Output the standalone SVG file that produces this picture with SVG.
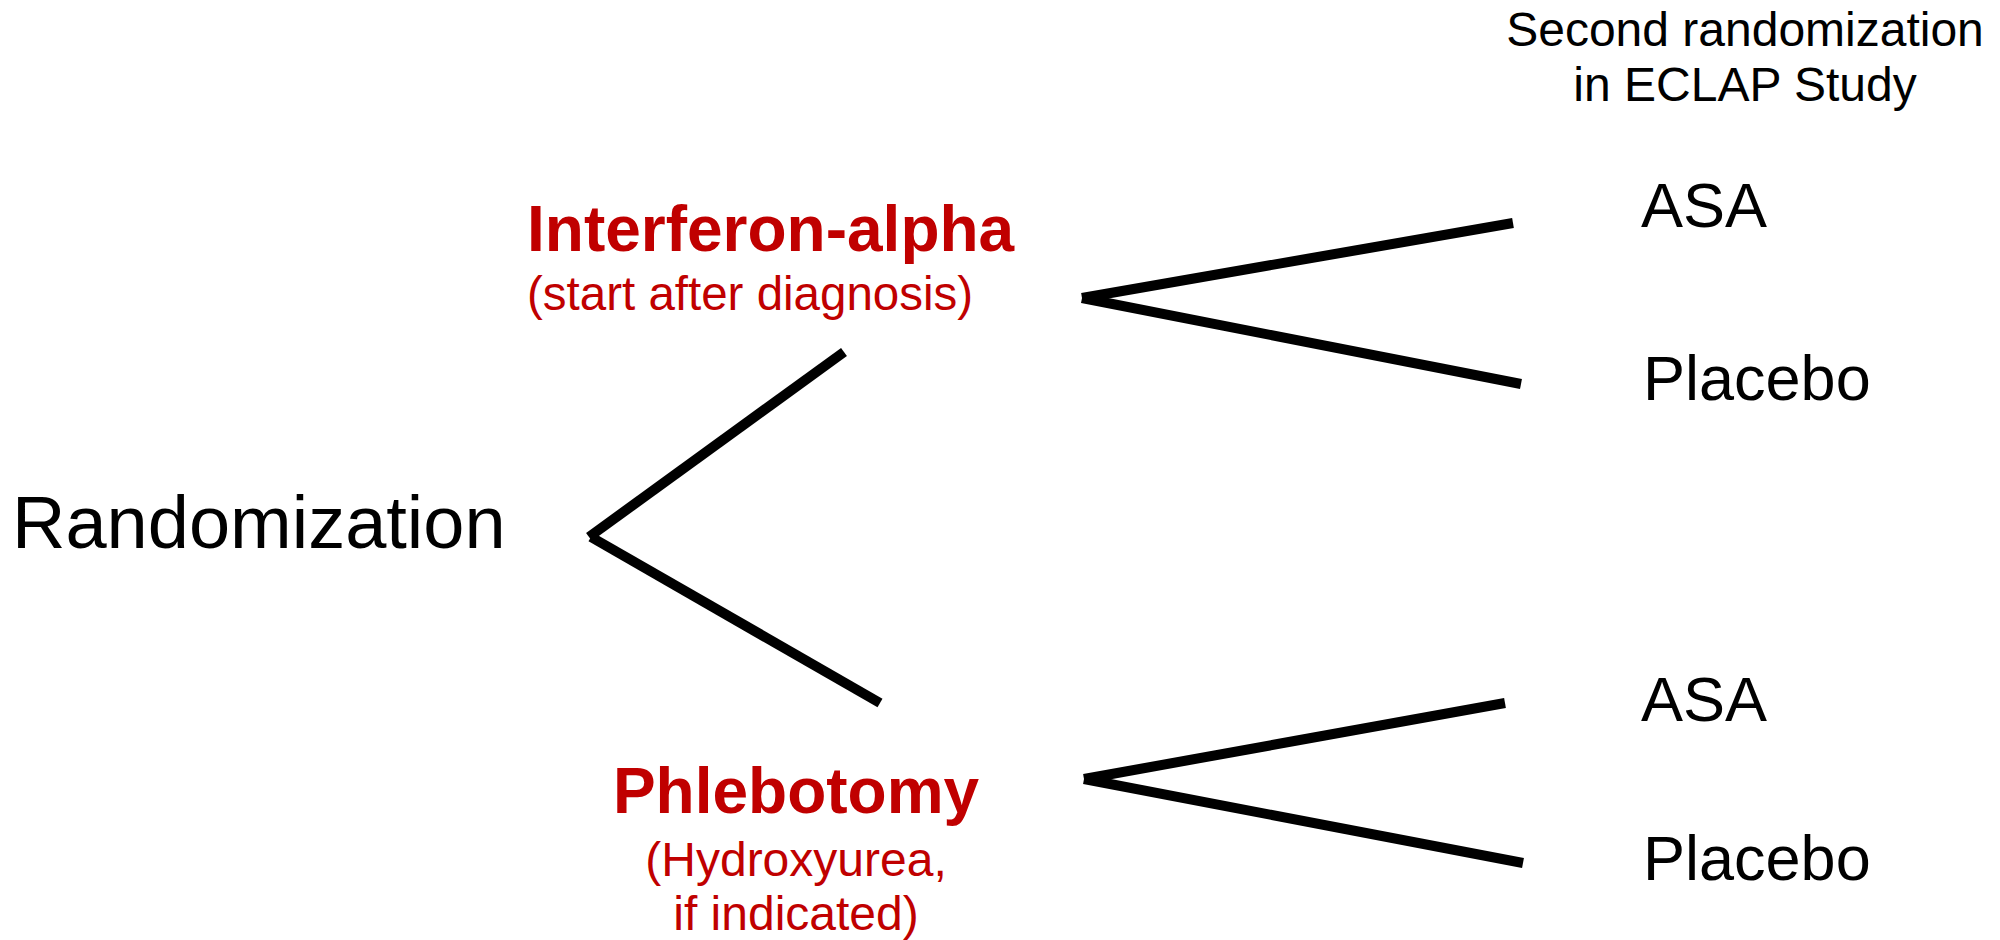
<svg xmlns="http://www.w3.org/2000/svg" width="2000" height="940" viewBox="0 0 2000 940">
<style>
.t{font-family:"Liberation Sans",Arial,sans-serif;fill:#000}
.r{font-family:"Liberation Sans",Arial,sans-serif;fill:#C00000}
.b{font-weight:bold}
.ln{stroke:#000;stroke-width:10;fill:none;stroke-linecap:butt}
</style>
<rect width="2000" height="940" fill="#fff"/>
<g id="header"><text class="t" x="1745" y="46" font-size="48" text-anchor="middle">Second randomization</text><text class="t" x="1745" y="101" font-size="48" text-anchor="middle">in ECLAP Study</text></g>
<g id="randomization"><text class="t" x="12" y="548" font-size="74">Randomization</text></g>
<g id="interferon"><text class="r b" x="527" y="251" font-size="64">Interferon-alpha</text><text class="r" x="527" y="310" font-size="47.5">(start after diagnosis)</text></g>
<g id="phlebotomy"><text class="r b" x="796" y="813" font-size="64" text-anchor="middle">Phlebotomy</text><text class="r" x="796" y="876" font-size="48" text-anchor="middle">(Hydroxyurea,</text><text class="r" x="796" y="930" font-size="48" text-anchor="middle">if indicated)</text></g>
<g id="asa1"><text class="t" x="1641" y="227" font-size="63">ASA</text></g>
<g id="placebo1"><text class="t" x="1643" y="400" font-size="63">Placebo</text></g>
<g id="asa2"><text class="t" x="1641" y="721" font-size="63">ASA</text></g>
<g id="placebo2"><text class="t" x="1643" y="880" font-size="63">Placebo</text></g>
<g id="connectors">
<line class="ln" x1="589" y1="537" x2="844" y2="352"/>
<line class="ln" x1="591" y1="537" x2="880" y2="703"/>
<line class="ln" x1="1082" y1="298" x2="1513" y2="223"/>
<line class="ln" x1="1082" y1="298" x2="1521" y2="384"/>
<line class="ln" x1="1084" y1="779" x2="1505" y2="703"/>
<line class="ln" x1="1084" y1="779" x2="1523" y2="863"/>
</g>
</svg>
